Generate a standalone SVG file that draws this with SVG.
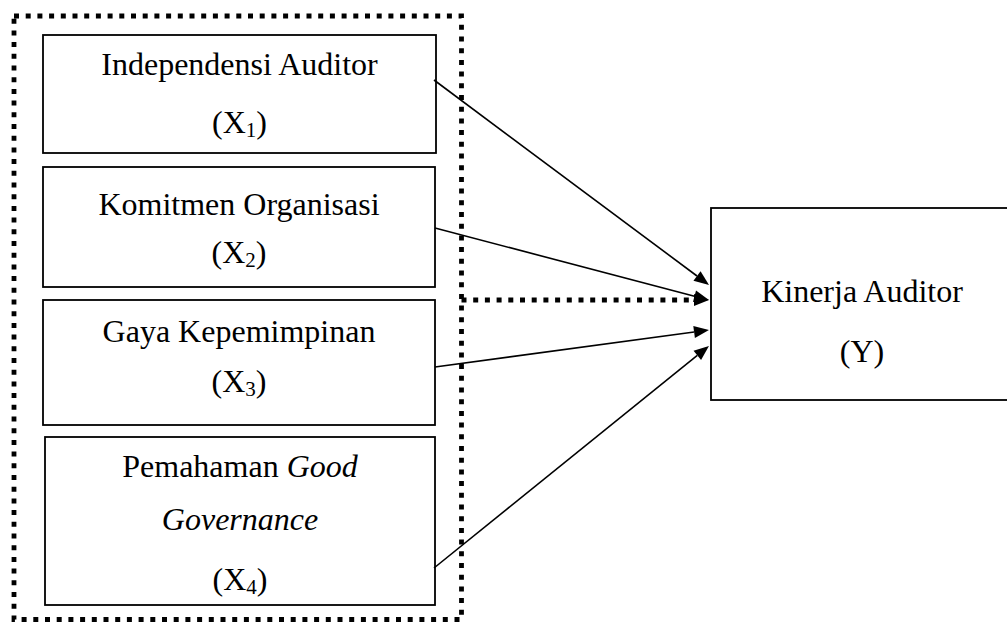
<svg xmlns="http://www.w3.org/2000/svg" width="1007" height="622" viewBox="0 0 1007 622">
<style>
.box{fill:#fff;stroke:#000;stroke-width:1.8}
.t{font-family:"Liberation Serif","Times New Roman",serif;font-size:32px;fill:#000;text-anchor:middle}
.sub{font-size:21px}
.conn{stroke:#000;stroke-width:1.6;fill:none}
.dot{stroke:#000;stroke-width:4.8;fill:none;stroke-dasharray:5 6.7}
</style>
<defs>
<marker id="ah" markerUnits="userSpaceOnUse" markerWidth="16" markerHeight="14" refX="0" refY="7" orient="auto" overflow="visible">
<path d="M0,1 L15,7 L0,13 z" fill="#000"/>
</marker>
</defs>
<rect x="14" y="16" width="447.5" height="603.5" class="dot" fill="none"/>
<g id="x1">
<rect x="43" y="35" width="393" height="118" class="box"/>
<text class="t" x="239.5" y="75">Independensi Auditor</text>
<text class="t" x="239.5" y="133">(X<tspan class="sub" dy="4">1</tspan><tspan dy="-4">)</tspan></text>
</g>
<g id="x2">
<rect x="43" y="167" width="392" height="120" class="box"/>
<text class="t" x="239" y="215">Komitmen Organisasi</text>
<text class="t" x="239" y="263">(X<tspan class="sub" dy="4">2</tspan><tspan dy="-4">)</tspan></text>
</g>
<g id="x3">
<rect x="43" y="300" width="392" height="125" class="box"/>
<text class="t" x="239" y="342">Gaya Kepemimpinan</text>
<text class="t" x="239" y="392">(X<tspan class="sub" dy="4">3</tspan><tspan dy="-4">)</tspan></text>
</g>
<g id="x4">
<rect x="45" y="437" width="390" height="168" class="box"/>
<text class="t" x="240" y="477">Pemahaman <tspan font-style="italic">Good</tspan></text>
<text class="t" x="240" y="530" font-style="italic">Governance</text>
<text class="t" x="240" y="590">(X<tspan class="sub" dy="4">4</tspan><tspan dy="-4">)</tspan></text>
</g>
<g id="y">
<rect x="711" y="208" width="300" height="192" class="box" stroke-width="2"/>
<text class="t" x="862" y="302">Kinerja Auditor</text>
<text class="t" x="862" y="362">(Y)</text>
</g>
<g id="connectors">
<line class="conn" x1="434" y1="80" x2="697" y2="276" marker-end="url(#ah)"/>
<line class="conn" x1="435" y1="228" x2="694.5" y2="296.2" marker-end="url(#ah)"/>
<line class="conn" x1="435" y1="367" x2="694.1" y2="332" marker-end="url(#ah)"/>
<line class="conn" x1="434" y1="568" x2="697.3" y2="355.4" marker-end="url(#ah)"/>
<line class="dot" x1="461.5" y1="300" x2="694" y2="300" marker-end="url(#ah)"/>
</g>
</svg>
